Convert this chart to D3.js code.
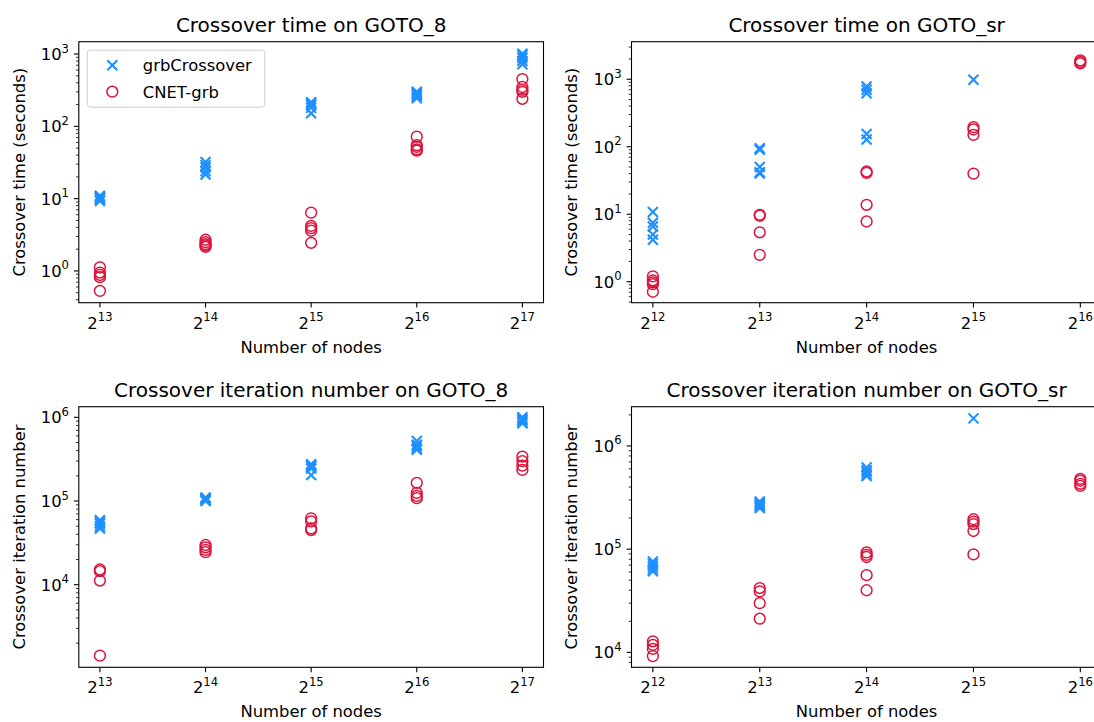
<!DOCTYPE html>
<html>
<head>
<meta charset="utf-8">
<script src="https://cdn.jsdelivr.net/npm/d3@7"></script>
<style>
  body { margin: 0; background: #fff; }
  svg { display: block; }
  text { font-family: "DejaVu Sans", sans-serif; fill: #000; }
</style>
</head>
<body>
<div id="chart"></div>
<script>
const W = 1094, H = 722;

// node-count exponents (x = 2^exp)
const expsGoto8 = [13, 14, 15, 16, 17];
const expsGotoSr = [12, 13, 14, 15, 16];

// Crossover time (seconds) on GOTO_8
const timeGoto8Grb = [
  [9.3, 9.8, 10.2, 10.6, 11],
  [21.5, 24, 27, 29, 32],
  [152, 180, 195, 205, 215],
  [245, 260, 275, 290, 300],
  [720, 800, 880, 950, 1010]
];
const timeGoto8Cnet = [
  [1.12, 0.95, 0.88, 0.82, 0.53],
  [2.7, 2.5, 2.35, 2.25, 2.15],
  [6.4, 4.2, 3.9, 3.6, 2.45],
  [72, 55, 52, 48, 46],
  [450, 350, 320, 300, 240]
];

// Crossover time (seconds) on GOTO_sr
const timeGotoSrGrb = [
  [10.8, 7.5, 6.6, 5.0, 4.2],
  [95, 90, 50, 42, 40],
  [780, 700, 620, 155, 128],
  [980],
  []
];
const timeGotoSrCnet = [
  [1.2, 1.05, 0.98, 0.92, 0.71],
  [9.8, 9.5, 5.4, 2.5],
  [43, 41, 13.8, 7.8],
  [195, 180, 150, 40],
  [1900, 1800, 1720]
];

// Crossover iteration number on GOTO_8
const iterGoto8Grb = [
  [59000, 56000, 54000, 50000, 47000],
  [110000, 107000, 105000, 103000, 100000],
  [275000, 265000, 255000, 245000, 205000],
  [520000, 470000, 450000, 420000, 410000],
  [1000000, 950000, 920000, 880000, 850000]
];
const iterGoto8Cnet = [
  [15200, 14500, 11200, 1420],
  [29800, 28000, 26000, 24500],
  [62000, 57000, 47000, 45000],
  [165000, 125000, 115000, 108000],
  [340000, 300000, 265000, 235000]
];

// Crossover iteration number on GOTO_sr
const iterGotoSrGrb = [
  [76000, 72000, 68000, 64000, 61000],
  [290000, 280000, 270000, 260000, 250000],
  [620000, 580000, 560000, 530000, 510000],
  [1850000],
  []
];
const iterGotoSrCnet = [
  [12800, 11800, 10800, 9200],
  [42000, 39000, 30000, 21200],
  [93000, 88000, 84000, 56000, 40000],
  [195000, 185000, 175000, 150000, 89000],
  [480000, 460000, 430000, 410000]
];

const seriesNames = ["grbCrossover", "CNET-grb"];
const colors = ["#1e90ff", "#dc143c"];

const panels = [
  {title: "Crossover time on GOTO_8", ylabel: "Crossover time (seconds)", exps: expsGoto8,
   grb: timeGoto8Grb, cnet: timeGoto8Cnet, yDom: [0.364, 1480], legend: true,
   box: {l: 78.8, r: 543.5, t: 41.7, b: 302.7}, ylabX: 19.3},
  {title: "Crossover time on GOTO_sr", ylabel: "Crossover time (seconds)", exps: expsGotoSr,
   grb: timeGotoSrGrb, cnet: timeGotoSrCnet, yDom: [0.489, 3600],
   box: {l: 631.5, r: 1101.7, t: 41.7, b: 302.7}, ylabX: 571.7},
  {title: "Crossover iteration number on GOTO_8", ylabel: "Crossover iteration number", exps: expsGoto8,
   grb: iterGoto8Grb, cnet: iterGoto8Cnet, yDom: [1030, 1.34e6],
   box: {l: 78.8, r: 543.5, t: 406.7, b: 667.3}, ylabX: 19.3},
  {title: "Crossover iteration number on GOTO_sr", ylabel: "Crossover iteration number", exps: expsGotoSr,
   grb: iterGotoSrGrb, cnet: iterGotoSrCnet, yDom: [7170, 2.4e6],
   box: {l: 631.5, r: 1101.7, t: 406.7, b: 667.3}, ylabX: 571.7}
];

const svg = d3.select("#chart").append("svg")
  .attr("width", W).attr("height", H).attr("viewBox", [0, 0, W, H]);

const tickFont = 16.4, supFont = 11.6, titleFont = 20, majorLen = 4.9, minorLen = 2.8;

function drawX(g, cx, cy, r) {
  g.append("path")
    .attr("d", `M${cx - r},${cy - r}L${cx + r},${cy + r}M${cx - r},${cy + r}L${cx + r},${cy - r}`)
    .attr("stroke", colors[0]).attr("stroke-width", 2.1).attr("fill", "none");
}

function drawO(g, cx, cy, r) {
  g.append("circle").attr("cx", cx).attr("cy", cy).attr("r", r)
    .attr("fill", "none").attr("stroke", colors[1]).attr("stroke-width", 1.5);
}

panels.forEach((p, pi) => {
  const b = p.box;
  const e0 = p.exps[0], e1 = p.exps[p.exps.length - 1];
  const pad = (e1 - e0) * 0.05;
  const x = d3.scaleLog().base(2).domain([2 ** (e0 - pad), 2 ** (e1 + pad)]).range([b.l, b.r]);
  const y = d3.scaleLog().domain(p.yDom).range([b.b, b.t]);

  const g = svg.append("g");
  const clipId = "clip" + pi;
  g.append("clipPath").attr("id", clipId).append("rect")
    .attr("x", b.l).attr("y", b.t - 10).attr("width", b.r - b.l).attr("height", b.b - b.t + 20);

  // x ticks (2^k)
  p.exps.forEach(k => {
    const px = x(2 ** k);
    g.append("line").attr("x1", px).attr("x2", px).attr("y1", b.b).attr("y2", b.b + majorLen)
      .attr("stroke", "#000").attr("stroke-width", 1.1);
    const t = g.append("text").attr("x", px).attr("y", b.b + 26)
      .attr("text-anchor", "middle").attr("font-size", tickFont);
    t.append("tspan").text("2");
    t.append("tspan").attr("dy", -7.5).attr("font-size", supFont).text(k);
  });

  // y ticks: majors at decades, minors 2..9
  const lo = Math.floor(Math.log10(p.yDom[0])), hi = Math.ceil(Math.log10(p.yDom[1]));
  for (let k = lo; k <= hi; k++) {
    for (let m = 1; m <= 9; m++) {
      const v = m * 10 ** k;
      if (v < p.yDom[0] || v > p.yDom[1]) continue;
      const py = y(v);
      const len = m === 1 ? majorLen : minorLen;
      g.append("line").attr("x1", b.l - len).attr("x2", b.l).attr("y1", py).attr("y2", py)
        .attr("stroke", "#000").attr("stroke-width", m === 1 ? 1.1 : 0.8);
      if (m === 1) {
        const t = g.append("text").attr("x", b.l - 9.8).attr("y", py + 6)
          .attr("text-anchor", "end").attr("font-size", tickFont);
        t.append("tspan").text("10");
        t.append("tspan").attr("dy", -7.5).attr("font-size", supFont).text(k);
      }
    }
  }

  // markers
  const mg = g.append("g").attr("clip-path", `url(#${clipId})`);
  p.exps.forEach((k, i) => {
    p.grb[i].forEach(v => drawX(mg, x(2 ** k), y(v), 5));
  });
  p.exps.forEach((k, i) => {
    p.cnet[i].forEach(v => drawO(mg, x(2 ** k), y(v), 5.4));
  });

  // spines
  g.append("rect").attr("x", b.l).attr("y", b.t).attr("width", b.r - b.l).attr("height", b.b - b.t)
    .attr("fill", "none").attr("stroke", "#000").attr("stroke-width", 1.1);

  // title and labels
  g.append("text").attr("x", (b.l + b.r) / 2).attr("y", b.t - 10.2)
    .attr("text-anchor", "middle").attr("font-size", titleFont).text(p.title);
  g.append("text").attr("x", (b.l + b.r) / 2).attr("y", b.b + 50)
    .attr("text-anchor", "middle").attr("font-size", tickFont).text("Number of nodes");
  g.append("text").attr("transform", `translate(${p.ylabX},${(b.t + b.b) / 2}) rotate(-90)`)
    .attr("dy", "0.35em").attr("text-anchor", "middle").attr("font-size", tickFont).text(p.ylabel);

  if (p.legend) {
    const lg = g.append("g");
    lg.append("rect").attr("x", b.l + 8.5).attr("y", b.t + 8.5).attr("width", 177.5).attr("height", 57)
      .attr("rx", 3).attr("fill", "#fff").attr("fill-opacity", 0.8)
      .attr("stroke", "#cccccc").attr("stroke-width", 1);
    seriesNames.forEach((name, i) => {
      const ly = b.t + 23.5 + i * 26.5;
      if (i === 0) drawX(lg, b.l + 33.5, ly, 5);
      else drawO(lg, b.l + 33.5, ly, 5.4);
      lg.append("text").attr("x", b.l + 64).attr("y", ly + 6).attr("font-size", tickFont).text(name);
    });
  }
});
</script>
</body>
</html>
